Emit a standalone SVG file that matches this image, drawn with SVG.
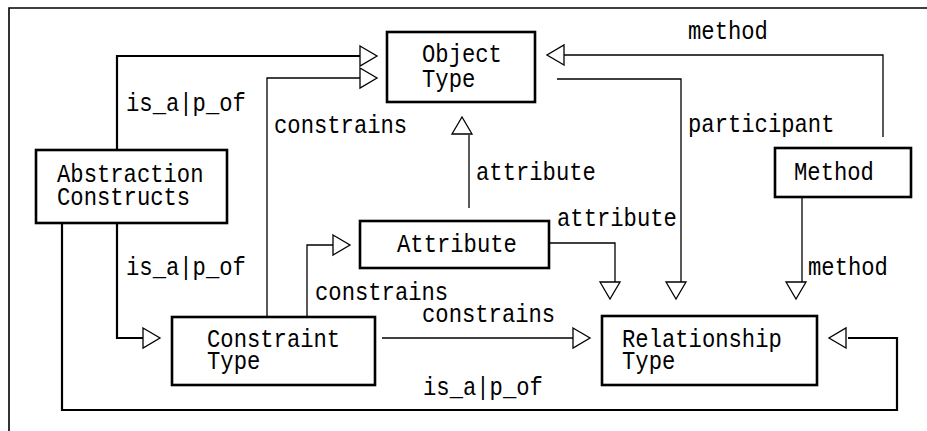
<svg xmlns="http://www.w3.org/2000/svg" xmlns:xlink="http://www.w3.org/1999/xlink" width="927" height="431" viewBox="0 0 927 431">
  <style>
    .frame { fill: none; stroke: #000; stroke-width: 1.6; }
    .box { fill: #fff; stroke: #000; stroke-width: 2.6; }
    .ln { fill: none; stroke: #000; stroke-width: 1.3; }
    .lnb { fill: none; stroke: #000; stroke-width: 2.2; }
    .tri { fill: #fff; stroke: #000; stroke-width: 1.3; stroke-linejoin: miter; }
    text { font-family: "Liberation Mono", "DejaVu Sans Mono", monospace; font-size: 22.2px; fill: #000; }
  </style>
  <defs>
    <!-- open triangular arrowhead, tip at the origin, pointing along +x -->
    <polygon id="tri" class="tri" points="-17,-10 0,0 -17,10"/>
  </defs>

  <rect width="927" height="431" fill="#fff"/>
  <!-- page frame -->
  <path class="frame" d="M9,431 V8 H927"/>

  <g id="connectors">
    <!-- Abstraction Constructs is_a|p_of Object Type -->
    <path class="lnb" d="M117,150 V56 H360"/>
    <use xlink:href="#tri" transform="translate(377,56)"/>
    <!-- Constraint Type constrains Object Type -->
    <path class="ln" d="M267,317 V78 H360"/>
    <use xlink:href="#tri" transform="translate(377,78)"/>
    <!-- Constraint Type constrains Attribute -->
    <path class="ln" d="M307,317 V245 H333"/>
    <use xlink:href="#tri" transform="translate(350,245)"/>
    <!-- Abstraction Constructs is_a|p_of Constraint Type -->
    <path class="lnb" d="M117,223 V338 H143"/>
    <use xlink:href="#tri" transform="translate(160,338)"/>
    <!-- Constraint Type constrains Relationship Type -->
    <path class="ln" d="M382,338 H573"/>
    <use xlink:href="#tri" transform="translate(590,338)"/>
    <!-- Method method Object Type -->
    <path class="ln" d="M883,137 V55 H564"/>
    <use xlink:href="#tri" transform="translate(547,55) rotate(180)"/>
    <!-- Attribute attribute Object Type -->
    <path class="ln" d="M469,208 V135"/>
    <use xlink:href="#tri" transform="translate(462,117) rotate(-90)"/>
    <!-- Attribute attribute Relationship Type -->
    <path class="ln" d="M549,243 H615 V283"/>
    <use xlink:href="#tri" transform="translate(610,299) rotate(90)"/>
    <!-- Object Type participant Relationship Type -->
    <path class="ln" d="M557,79 H681 V283"/>
    <use xlink:href="#tri" transform="translate(676,299) rotate(90)"/>
    <!-- Method method Relationship Type -->
    <path class="ln" d="M802,197 V283"/>
    <use xlink:href="#tri" transform="translate(796,299) rotate(90)"/>
    <!-- Abstraction Constructs is_a|p_of Relationship Type -->
    <path class="lnb" d="M62,223 V410 H897 V338 H848"/>
    <use xlink:href="#tri" transform="translate(829,338) rotate(180)"/>

    <!-- connector labels -->
    <text transform="translate(126,111) scale(1,1.15)">is_a|p_of</text>
    <text transform="translate(274,133) scale(1,1.15)">constrains</text>
    <text transform="translate(688,39) scale(1,1.15)">method</text>
    <text transform="translate(688,132) scale(1,1.15)">participant</text>
    <text transform="translate(476,180) scale(1,1.15)">attribute</text>
    <text transform="translate(557,226) scale(1,1.15)">attribute</text>
    <text transform="translate(808,275) scale(1,1.15)">method</text>
    <text transform="translate(126,275) scale(1,1.15)">is_a|p_of</text>
    <text transform="translate(315,300) scale(1,1.15)">constrains</text>
    <text transform="translate(422,322) scale(1,1.15)">constrains</text>
    <text transform="translate(423,395) scale(1,1.15)">is_a|p_of</text>
  </g>

  <g id="object-type">
    <rect class="box" x="387" y="32" width="148" height="70"/>
    <text transform="translate(422,62) scale(1,1.15)"><tspan x="0" y="0">Object</tspan><tspan x="0" y="21.7">Type</tspan></text>
  </g>

  <g id="abstraction-constructs">
    <rect class="box" x="36" y="150" width="191" height="73"/>
    <text transform="translate(57,182) scale(1,1.15)"><tspan x="0" y="0">Abstraction</tspan><tspan x="0" y="20">Constructs</tspan></text>
  </g>

  <g id="method">
    <rect class="box" x="775" y="148" width="136" height="49"/>
    <text transform="translate(794,180) scale(1,1.15)">Method</text>
  </g>

  <g id="attribute">
    <rect class="box" x="360" y="221" width="189" height="47"/>
    <text transform="translate(397,252) scale(1,1.15)">Attribute</text>
  </g>

  <g id="constraint-type">
    <rect class="box" x="172" y="317" width="203" height="68"/>
    <text transform="translate(207,347) scale(1,1.15)"><tspan x="0" y="0">Constraint</tspan><tspan x="0" y="19.1">Type</tspan></text>
  </g>

  <g id="relationship-type">
    <rect class="box" x="602" y="316" width="215" height="69"/>
    <text transform="translate(622,347) scale(1,1.15)"><tspan x="0" y="0">Relationship</tspan><tspan x="0" y="19.1">Type</tspan></text>
  </g>
</svg>
